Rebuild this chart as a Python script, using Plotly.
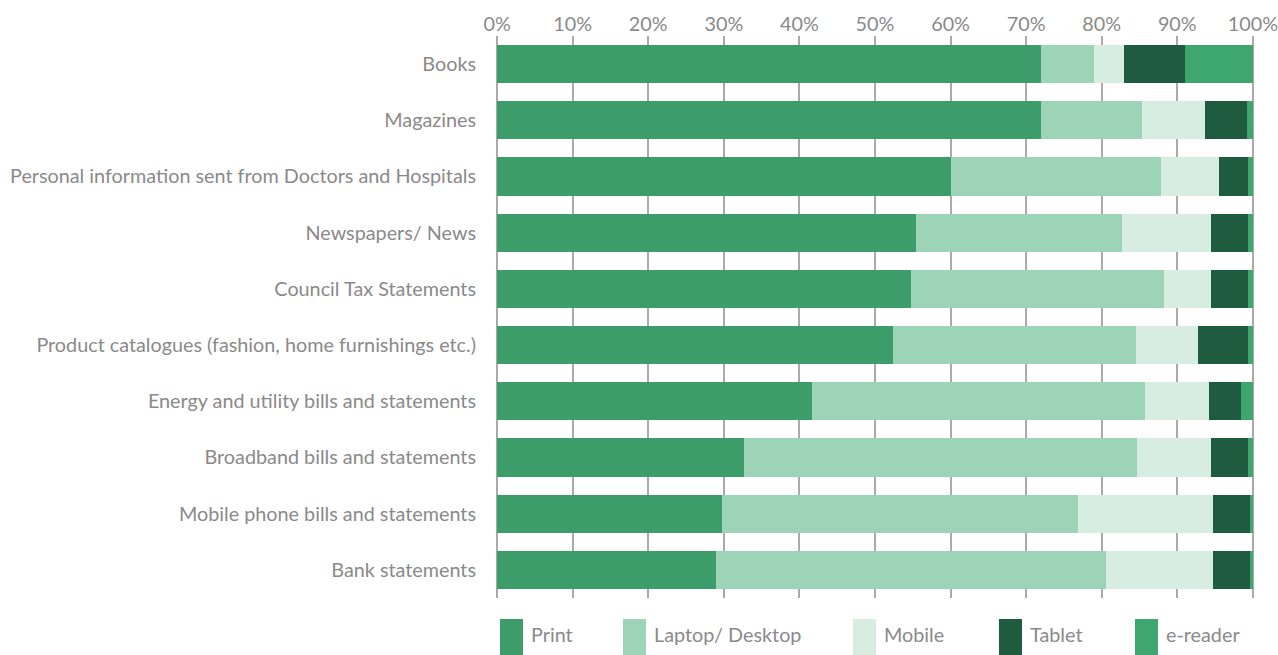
import plotly.graph_objects as go

categories = [
    "Books",
    "Magazines",
    "Personal information sent from Doctors and Hospitals",
    "Newspapers/ News",
    "Council Tax Statements",
    "Product catalogues (fashion, home furnishings etc.)",
    "Energy and utility bills and statements",
    "Broadband bills and statements",
    "Mobile phone bills and statements",
    "Bank statements",
]

print_vals = [72.0, 71.9, 60.1, 55.4, 54.7, 52.4, 41.7, 32.6, 29.8, 29.0]
laptop_vals = [7.0, 13.4, 27.7, 27.3, 33.5, 32.1, 44.0, 52.1, 47.1, 51.6]
mobile_vals = [4.0, 8.3, 7.7, 11.7, 6.2, 8.3, 8.5, 9.7, 17.8, 14.1]
tablet_vals = [8.0, 5.6, 3.9, 5.0, 5.0, 6.6, 4.2, 5.0, 4.9, 4.9]
ereader_vals = [9.0, 0.8, 0.6, 0.6, 0.6, 0.6, 1.6, 0.6, 0.4, 0.4]

series_names = ["Print", "Laptop/ Desktop", "Mobile", "Tablet", "e-reader"]
series_vals = [print_vals, laptop_vals, mobile_vals, tablet_vals, ereader_vals]
series_colors = ["#3c9d6b", "#9dd3b7", "#d8ede1", "#1f5b3f", "#3ea66f"]

tick_vals = [0, 10, 20, 30, 40, 50, 60, 70, 80, 90, 100]
tick_text = [f"{v}%" for v in tick_vals]

FONT = "Lato"
GREY = "#8a8a8a"
FS = 19.8

fig = go.Figure()
for name, vals, col in zip(series_names, series_vals, series_colors):
    fig.add_trace(go.Bar(
        y=categories, x=vals, name=name, orientation="h",
        marker=dict(color=col, line=dict(width=0)),
        showlegend=False,
    ))

# custom legend (swatches + labels) below the plot
PL, PR, PT, PB = 496, 1254, 36, 598
legend_x = [500, 623, 853, 999, 1135]
for name, col, lx in zip(series_names, series_colors, legend_x):
    fig.add_shape(type="rect", xref="paper", yref="paper",
                  x0=(lx - PL) / (PR - PL), x1=(lx + 23 - PL) / (PR - PL),
                  y0=(PB - 656) / (PB - PT), y1=(PB - 619) / (PB - PT),
                  fillcolor=col, line=dict(width=0))
    fig.add_annotation(xref="paper", yref="paper",
                       x=(lx + 29 - PL) / (PR - PL), y=(PB - 634) / (PB - PT),
                       text=name, showarrow=False, xanchor="left", yanchor="middle",
                       font=dict(family=FONT, size=FS, color=GREY))

W, H = 1278, 655
fig.update_layout(
    barmode="stack",
    bargap=0.32,
    width=W, height=H,
    margin=dict(l=PL, r=W - PR, t=PT, b=H - PB),
    paper_bgcolor="white", plot_bgcolor="white",
    font=dict(family=FONT, size=FS, color=GREY),
    xaxis=dict(
        side="top", range=[-0.15, 100.15], tickvals=tick_vals, ticktext=tick_text,
        showgrid=True, gridcolor="#aaaaaa", gridwidth=2,
        zeroline=False, showline=False, ticks="", automargin=False,
        ticklabeloverflow="allow",
        tickfont=dict(family=FONT, size=FS, color=GREY),
    ),
    yaxis=dict(
        autorange="reversed", showgrid=False, zeroline=False, showline=False,
        ticks="", ticklabelstandoff=19, automargin=False,
        ticklabeloverflow="allow",
        tickfont=dict(family=FONT, size=FS, color=GREY),
    ),
)

fig.write_html(
    "out.html",
    config={"displayModeBar": False},
    post_script="document.body.style.margin='0';document.body.style.overflow='hidden';",
)
